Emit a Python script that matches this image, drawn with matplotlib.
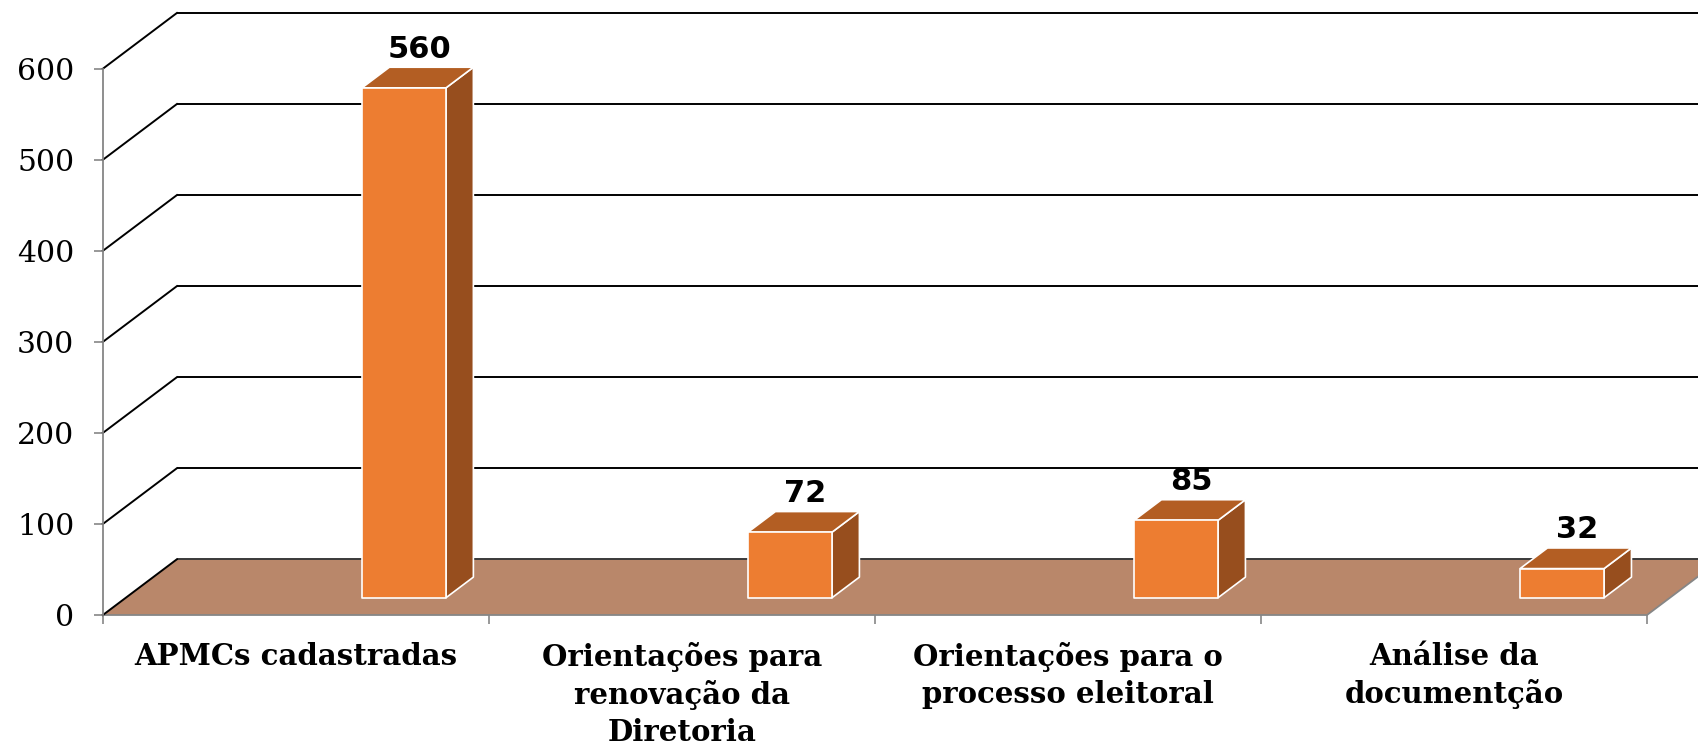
#!/usr/bin/env python3
"""Gráfico de barras "3D" (estilo Excel) das atividades com APMCs.

Saída: out.png
"""
import matplotlib
matplotlib.use("Agg")
import matplotlib.pyplot as plt
from matplotlib.patches import Polygon

# Dados
CATEGORIAS = [
    "APMCs cadastradas",
    "Orientações para\nrenovação da\nDiretoria",
    "Orientações para o\nprocesso eleitoral",
    "Análise da\ndocumentção",
]
VALORES = [560, 72, 85, 32]
YTICKS = [0, 100, 200, 300, 400, 500, 600]

# Paleta (tons do Office)
COR_FRENTE = "#ED7D31"
COR_TOPO = "#B35E23"
COR_LADO = "#974E1E"
COR_PISO = "#B9876A"
COR_EIXO = "#868686"

# Geometria da projeção oblíqua (em unidades de dados)
DX = 0.1917      # profundidade total, em categorias
DY = 61.2        # profundidade total, em unidades do eixo y
OFFSET = 0.28    # deslocamento da face frontal a partir do centro da categoria
HALF_W = 0.1088  # meia largura da barra
F1 = 0.31        # profundidade da face frontal (fração)
PROF = 0.37      # profundidade da barra (fração)

plt.rcParams.update({
    "font.family": ["DejaVu Serif"],
})

W, H = 1698, 744
fig = plt.figure(figsize=(W / 100, H / 100), dpi=100)
x0, x1 = 102.9, 1647.0
y0, y1 = 615.0, 68.7
ax = fig.add_axes([x0 / W, (H - y0) / H, (x1 - x0) / W, (y0 - y1) / H])
n = len(CATEGORIAS)
ax.set_xlim(0, n)
ax.set_ylim(YTICKS[0], YTICKS[-1])
ax.patch.set_visible(False)

# -----------------------------------------------------------------------------
# Piso
ax.add_patch(Polygon([(0, 0), (n, 0), (n + DX, DY), (DX, DY)], closed=True,
                     facecolor=COR_PISO, edgecolor="none", clip_on=False, zorder=1))
ax.plot([0, n, n + DX], [0, 0, DY], color=COR_EIXO, lw=1.3, clip_on=False, zorder=2)

# Linhas de grade: parede do fundo e parede lateral
for v in YTICKS:
    cor = "#3a3a3a" if v == 0 else "black"
    ax.plot([DX, n + DX], [v + DY, v + DY], color=cor, lw=1.4,
            clip_on=False, zorder=2, solid_capstyle="butt")
    ax.plot([0, DX], [v, v + DY], color="black", lw=1.4,
            clip_on=False, zorder=2)

# -----------------------------------------------------------------------------
# Barras
for i, v in enumerate(VALORES):
    xl = i + 0.5 + OFFSET - HALF_W
    xr = i + 0.5 + OFFSET + HALF_W
    yb = F1 * DY
    yt = v + F1 * DY
    ddx, ddy = PROF * DX, PROF * DY
    frente = [(xl, yb), (xr, yb), (xr, yt), (xl, yt)]
    lado = [(xr, yb), (xr + ddx, yb + ddy), (xr + ddx, yt + ddy), (xr, yt)]
    topo = [(xl, yt), (xr, yt), (xr + ddx, yt + ddy), (xl + ddx, yt + ddy)]
    for pts, cor in ((lado, COR_LADO), (topo, COR_TOPO), (frente, COR_FRENTE)):
        ax.add_patch(Polygon(pts, closed=True, facecolor=cor, edgecolor="white",
                             lw=1.2, joinstyle="round", clip_on=False, zorder=3))
    ax.annotate(f"{v}", xy=(i + 0.5 + OFFSET + ddx / 2, yt + ddy),
                xytext=(1, 7), textcoords="offset points",
                ha="center", va="baseline", fontsize=22, fontweight="bold",
                family="DejaVu Sans", annotation_clip=False, zorder=4)

# -----------------------------------------------------------------------------
# Eixos
for lado in ("top", "right", "bottom"):
    ax.spines[lado].set_visible(False)
ax.spines["left"].set_color(COR_EIXO)
ax.spines["left"].set_linewidth(1.3)
ax.spines["left"].set_zorder(2)

ax.set_yticks(YTICKS)
ax.set_yticklabels([str(t) for t in YTICKS], fontsize=21.5)
ax.tick_params(axis="y", length=6.5, width=1.2, color=COR_EIXO, pad=14)

ax.set_xticks([i + 0.5 for i in range(n)])
ax.set_xticklabels(CATEGORIAS, fontsize=21, fontweight="bold", linespacing=1.34)
ax.tick_params(axis="x", length=0, pad=19.5)
ax.set_xticks(list(range(n + 1)), minor=True)
ax.tick_params(axis="x", which="minor", length=6.5, width=1.2, color=COR_EIXO)

fig.savefig("out.png", dpi=100)
plt.close(fig)
print("  -> out.png")
